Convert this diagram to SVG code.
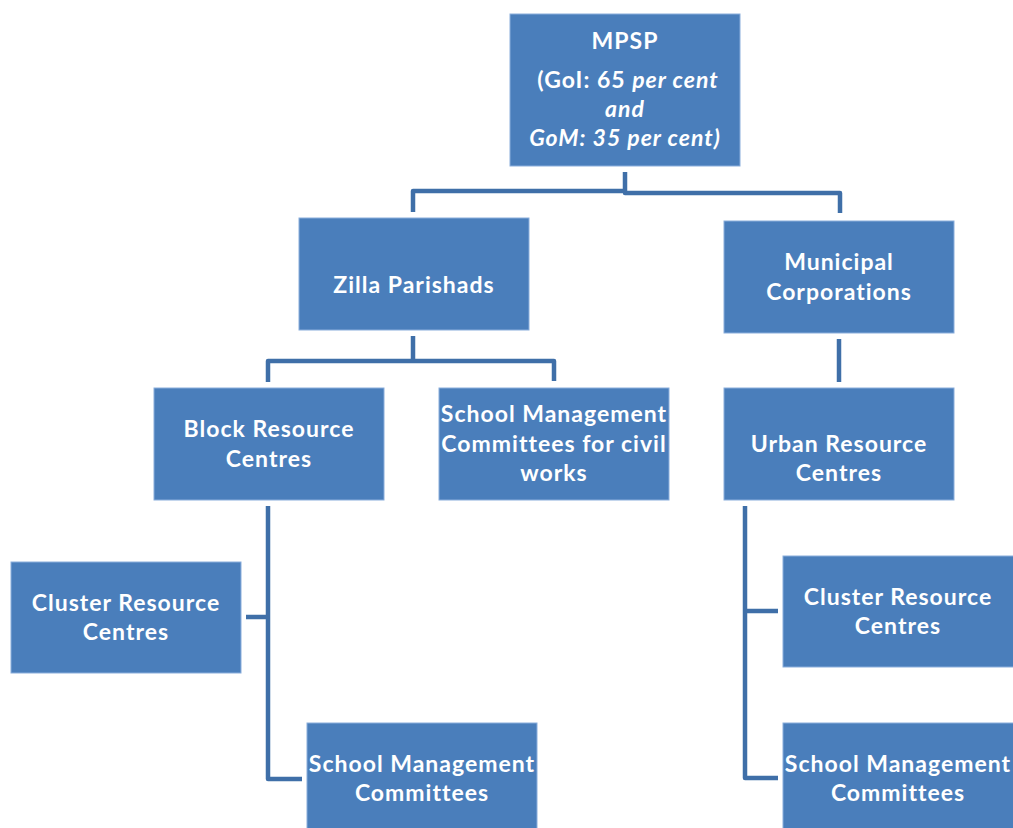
<svg xmlns="http://www.w3.org/2000/svg" width="1013" height="828" viewBox="0 0 1013 828">
<style>
.box{fill:#4A7EBB;stroke:#8AAEDC;stroke-width:1}
.t{font-family:Lato,"Open Sans","Liberation Sans",sans-serif;font-weight:bold;font-size:23px;letter-spacing:1px;fill:#ffffff;text-anchor:middle}
.i{font-style:italic}
.c{fill:none;stroke:#3F6FA8;stroke-width:4.5;stroke-linejoin:round}
</style>
<rect width="1013" height="828" fill="#ffffff"/>
<g id="connectors">
<path class="c" d="M625,172 V191 M413,212 V191 H625 M625,191 V193 H840 V213"/>
<path class="c" d="M413,336 V361 M268,382 V361 H554 V381"/>
<path class="c" d="M839,339 V382"/>
<path class="c" d="M268,506 V779 H302 M246,617 H268"/>
<path class="c" d="M745,506 V778 H778 M745,611 H778"/>
</g>
<g id="mpsp">
<rect class="box" x="510" y="14" width="230" height="152"/>
<text class="t" x="625" y="49">MPSP</text>
<text class="t" x="628" y="88">(GoI: 65 <tspan class="i">per cent</tspan></text>
<text class="t i" x="625" y="117">and</text>
<text class="t i" x="625" y="146">GoM: 35 per cent)</text>
</g>
<g id="zilla">
<rect class="box" x="299" y="218" width="230" height="112"/>
<text class="t" x="414" y="293">Zilla Parishads</text>
</g>
<g id="municipal">
<rect class="box" x="724" y="221" width="230" height="112"/>
<text class="t" x="839" y="270">Municipal</text>
<text class="t" x="839" y="300">Corporations</text>
</g>
<g id="brc">
<rect class="box" x="154" y="388" width="230" height="112"/>
<text class="t" x="269" y="437">Block Resource</text>
<text class="t" x="269" y="467">Centres</text>
</g>
<g id="smc-civil">
<rect class="box" x="439" y="388" width="230" height="112"/>
<text class="t" x="554" y="422">School Management</text>
<text class="t" x="554" y="452">Committees for civil</text>
<text class="t" x="554" y="481">works</text>
</g>
<g id="urc">
<rect class="box" x="724" y="388" width="230" height="112"/>
<text class="t" x="839" y="452">Urban Resource</text>
<text class="t" x="839" y="481">Centres</text>
</g>
<g id="crc-left">
<rect class="box" x="11" y="562" width="230" height="111"/>
<text class="t" x="126" y="611">Cluster Resource</text>
<text class="t" x="126" y="640">Centres</text>
</g>
<g id="smc-left">
<rect class="box" x="307" y="723" width="230" height="110"/>
<text class="t" x="422" y="772">School Management</text>
<text class="t" x="422" y="801">Committees</text>
</g>
<g id="crc-right">
<rect class="box" x="783" y="556" width="235" height="111"/>
<text class="t" x="898" y="605">Cluster Resource</text>
<text class="t" x="898" y="634">Centres</text>
</g>
<g id="smc-right">
<rect class="box" x="783" y="723" width="235" height="110"/>
<text class="t" x="898" y="772">School Management</text>
<text class="t" x="898" y="801">Committees</text>
</g>
</svg>
